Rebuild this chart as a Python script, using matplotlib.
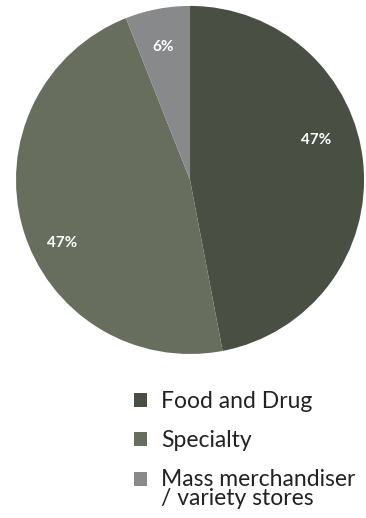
import matplotlib
matplotlib.use("Agg")
import numpy as np
from matplotlib import pyplot as plt
from matplotlib.patches import Patch

plt.rcParams['font.family'] = ['Lato', 'DejaVu Sans']

labels = ['Food and Drug', 'Specialty', 'Mass merchandiser\n/ variety stores']
shares = [47, 47, 6]
colors = ['#4a4f43', '#686e5e', '#88898b']

# where the percentage labels sit (radius fraction, angle in degrees)
label_pos = [(0.76, 17.6), (0.82, 206), (0.78, 101.6)]

fig = plt.figure(figsize=(3.66, 5.18), dpi=100)
ax = fig.add_axes([0.0437, 0.3166, 0.951, 0.672])
wedges, texts, autotexts = ax.pie(shares, colors=colors, startangle=90, counterclock=False,
                                  autopct='%d%%', pctdistance=0.78, radius=1,
                                  textprops=dict(color='white', fontsize=11, fontweight='bold'))
for t, (r, a) in zip(autotexts, label_pos):
    t.set_position((r * np.cos(np.radians(a)), r * np.sin(np.radians(a))))
ax.set_xlim(-1, 1)
ax.set_ylim(-1, 1)
ax.set_aspect('equal')

handles = [Patch(facecolor=c, edgecolor='none') for c in colors]
leg = fig.legend(handles, labels, loc='upper left', bbox_to_anchor=(0.365, 0.245),
                 frameon=False, fontsize=16.5, handlelength=0.58, handleheight=0.58,
                 handletextpad=0.62, labelspacing=0.78, borderaxespad=0, borderpad=0)
for t in leg.get_texts():
    t.set_linespacing(0.9)
    t.set_color('#222222')
# square of the two-line entry sits next to its first line
last = leg.legend_handles[2]
last.set_y(last.get_y() + 7.5)

fig.savefig('out.png', dpi=100)
